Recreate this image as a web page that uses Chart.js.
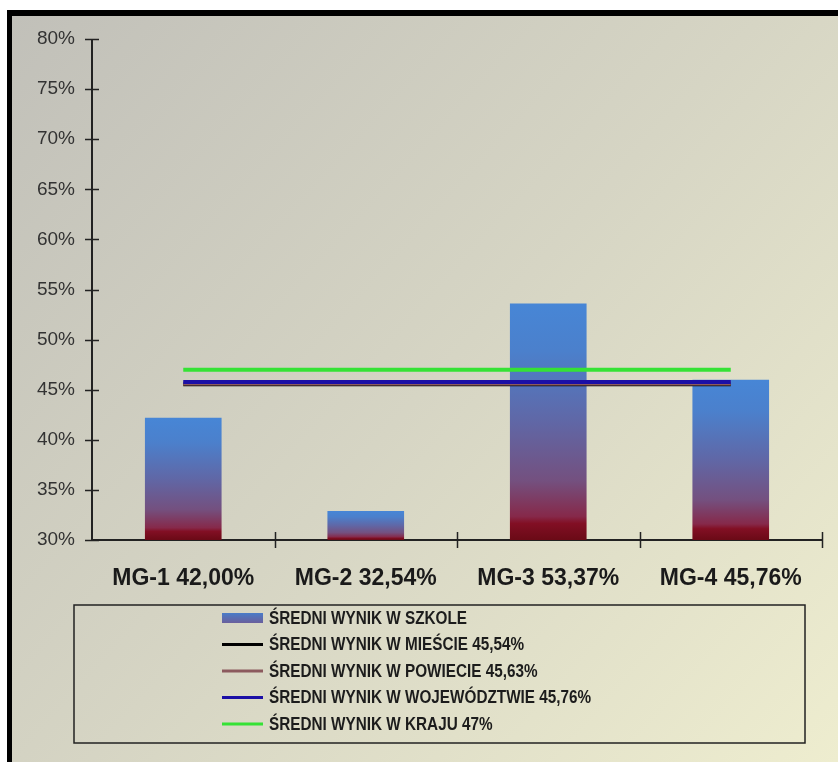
<!DOCTYPE html>
<html>
<head>
<meta charset="utf-8">
<script src="https://cdn.jsdelivr.net/npm/chart.js@4"></script>
<style>
  html, body { margin: 0; padding: 0; background: #fff; }
  #wrap { width: 838px; height: 762px; }
</style>
</head>
<body>
<div id="wrap"><canvas id="wynikiChart" width="838" height="762"></canvas></div>
<script>
// dane z wykresu
const categories = ['MG-1 42,00%', 'MG-2 32,54%', 'MG-3 53,37%', 'MG-4 45,76%'];
const schoolScores = [42.2, 32.9, 53.6, 46.0];           // słupki
const cityAvg      = [45.54, 45.54, 45.54, 45.54];       // miasto
const countyAvg    = [45.63, 45.63, 45.63, 45.63];       // powiat
const voivAvg      = [45.76, 45.76, 45.76, 45.76];       // województwo
const countryAvg   = [47, 47, 47, 47];                   // kraj
const seriesLabels = [
    'ŚREDNI WYNIK W SZKOLE',
    'ŚREDNI WYNIK W MIEŚCIE 45,54%',
    'ŚREDNI WYNIK W POWIECIE 45,63%',
    'ŚREDNI WYNIK W WOJEWÓDZTWIE 45,76%',
    'ŚREDNI WYNIK W KRAJU 47%'
];
const yMin = 30, yMax = 80, yStep = 5;

const AXIS = '#222';

// gradient słupka - od niebieskiego u góry do bordowego przy osi
function barGradient(context) {
    const chart = context.chart;
    if (!chart.chartArea) return '#4a86d4';
    const y = chart.scales.y;
    const v = context.raw;
    const top = y.getPixelForValue(v);
    const base = y.getPixelForValue(yMin);
    if (!isFinite(top) || base - top < 1) return '#4a86d4';
    const g = chart.ctx.createLinearGradient(0, top, 0, base);
    g.addColorStop(0, '#4786d6');
    g.addColorStop(0.2, '#4b80cc');
    g.addColorStop(0.5, '#6067a6');
    g.addColorStop(0.75, '#74507f');
    g.addColorStop(0.9, '#86294a');
    g.addColorStop(0.93, '#820f24');
    g.addColorStop(1, '#6a0a16');
    return g;
}

// tło + czarna ramka
const backgroundPlugin = {
    id: 'tlo',
    beforeDraw(chart) {
        const ctx = chart.ctx;
        const w = chart.width, h = chart.height;
        ctx.save();
        ctx.fillStyle = '#fff';
        ctx.fillRect(0, 0, w, h);
        ctx.fillStyle = '#000';
        ctx.fillRect(7, 10, w - 7, h - 10);
        const g = ctx.createLinearGradient(12, 16, w, h);
        g.addColorStop(0, '#c1c0b9');
        g.addColorStop(0.5, '#d6d5c4');
        g.addColorStop(1, '#eeedcf');
        ctx.fillStyle = g;
        ctx.fillRect(12, 16, w - 12, h - 16);
        ctx.restore();
    }
};

// osie z kreskami przecinającymi oś
const axesPlugin = {
    id: 'osie',
    beforeDatasetsDraw(chart) {
        const ctx = chart.ctx;
        const y = chart.scales.y;
        const a = chart.chartArea;
        ctx.save();
        ctx.strokeStyle = AXIS;
        ctx.lineWidth = 2;
        ctx.beginPath();
        ctx.moveTo(a.left, y.getPixelForValue(yMax));
        ctx.lineTo(a.left, a.bottom);
        ctx.lineTo(a.right, a.bottom);
        ctx.stroke();
        ctx.lineWidth = 1.5;
        ctx.beginPath();
        y.ticks.forEach(t => {
            const py = Math.round(y.getPixelForValue(t.value)) + 0.5;
            ctx.moveTo(a.left - 7, py);
            ctx.lineTo(a.left + 7, py);
        });
        const step = (a.right - a.left) / categories.length;
        for (let i = 1; i <= categories.length; i++) {
            const px = Math.round(a.left + i * step) + 0.5;
            ctx.moveTo(px, a.bottom - 8);
            ctx.lineTo(px, a.bottom + 8);
        }
        ctx.stroke();
        ctx.restore();
    }
};

// legenda w ramce
const legendPlugin = {
    id: 'legendaRamka',
    afterDraw(chart) {
        const ctx = chart.ctx;
        const box = { left: 74, top: 605, right: 805, bottom: 743 };
        ctx.save();
        ctx.strokeStyle = AXIS;
        ctx.lineWidth = 1.5;
        ctx.strokeRect(box.left, box.top, box.right - box.left, box.bottom - box.top);
        const sx = 222, sw = 41, textX = 269;
        const rowTop = 618, rowStep = 26.5;
        ctx.textBaseline = 'middle';
        ctx.textAlign = 'left';
        chart.data.datasets.forEach((ds, i) => {
            const cy = rowTop + i * rowStep;
            if (ds.type === 'line') {
                ctx.fillStyle = ds.borderColor;
                ctx.fillRect(sx, cy - 1.5, sw, 3);
            } else {
                const g = ctx.createLinearGradient(0, cy - 5, 0, cy + 5);
                g.addColorStop(0, '#4a7cc8');
                g.addColorStop(1, '#6a5f9c');
                ctx.fillStyle = g;
                ctx.fillRect(sx, cy - 5, sw, 10);
            }
            // tekst zwężony jak w oryginale
            ctx.save();
            ctx.translate(textX, cy + 1);
            ctx.scale(0.85, 1);
            ctx.font = 'bold 18px Arial, "Liberation Sans", sans-serif';
            ctx.fillStyle = '#1c1c1c';
            ctx.fillText(ds.label, 0, 0);
            ctx.restore();
        });
        ctx.restore();
    }
};

function lineSet(label, data, color, order) {
    return {
        type: 'line',
        label: label,
        data: data,
        borderColor: color,
        backgroundColor: color,
        borderWidth: 4,
        pointRadius: 0,
        fill: false,
        tension: 0,
        order: order
    };
}

const ctx = document.getElementById('wynikiChart').getContext('2d');
new Chart(ctx, {
    type: 'bar',
    data: {
        labels: categories,
        datasets: [
            {
                type: 'bar',
                label: seriesLabels[0],
                data: schoolScores,
                backgroundColor: barGradient,
                borderWidth: 0,
                categoryPercentage: 1,
                barPercentage: 0.42,
                order: 5
            },
            lineSet(seriesLabels[1], cityAvg, '#000000', 4),
            lineSet(seriesLabels[2], countyAvg, '#8c5a5e', 3),
            lineSet(seriesLabels[3], voivAvg, '#1b0fa6', 2),
            lineSet(seriesLabels[4], countryAvg, '#35e235', 1)
        ]
    },
    options: {
        responsive: false,
        animation: false,
        layout: { padding: { top: 39, right: 16, bottom: 0, left: 0 } },
        plugins: {
            legend: { display: false },
            tooltip: { enabled: false }
        },
        scales: {
            x: {
                offset: true,
                grid: { display: false, offset: true, drawTicks: false },
                border: { display: false },
                ticks: {
                    color: '#1a1a1a',
                    font: { family: 'Arial, "Liberation Sans", sans-serif', size: 23, weight: 'bold' },
                    padding: 25,
                    maxRotation: 0
                },
                afterFit(scale) { scale.height = 222; }
            },
            y: {
                min: yMin,
                max: yMax,
                grid: { display: false, drawTicks: false },
                border: { display: false },
                ticks: {
                    stepSize: yStep,
                    color: '#333',
                    font: { family: 'Arial, "Liberation Sans", sans-serif', size: 19 },
                    padding: 17,
                    callback: v => v + '%'
                },
                afterFit(scale) { scale.width = 92; }
            }
        }
    },
    plugins: [backgroundPlugin, axesPlugin, legendPlugin]
});
</script>
</body>
</html>
